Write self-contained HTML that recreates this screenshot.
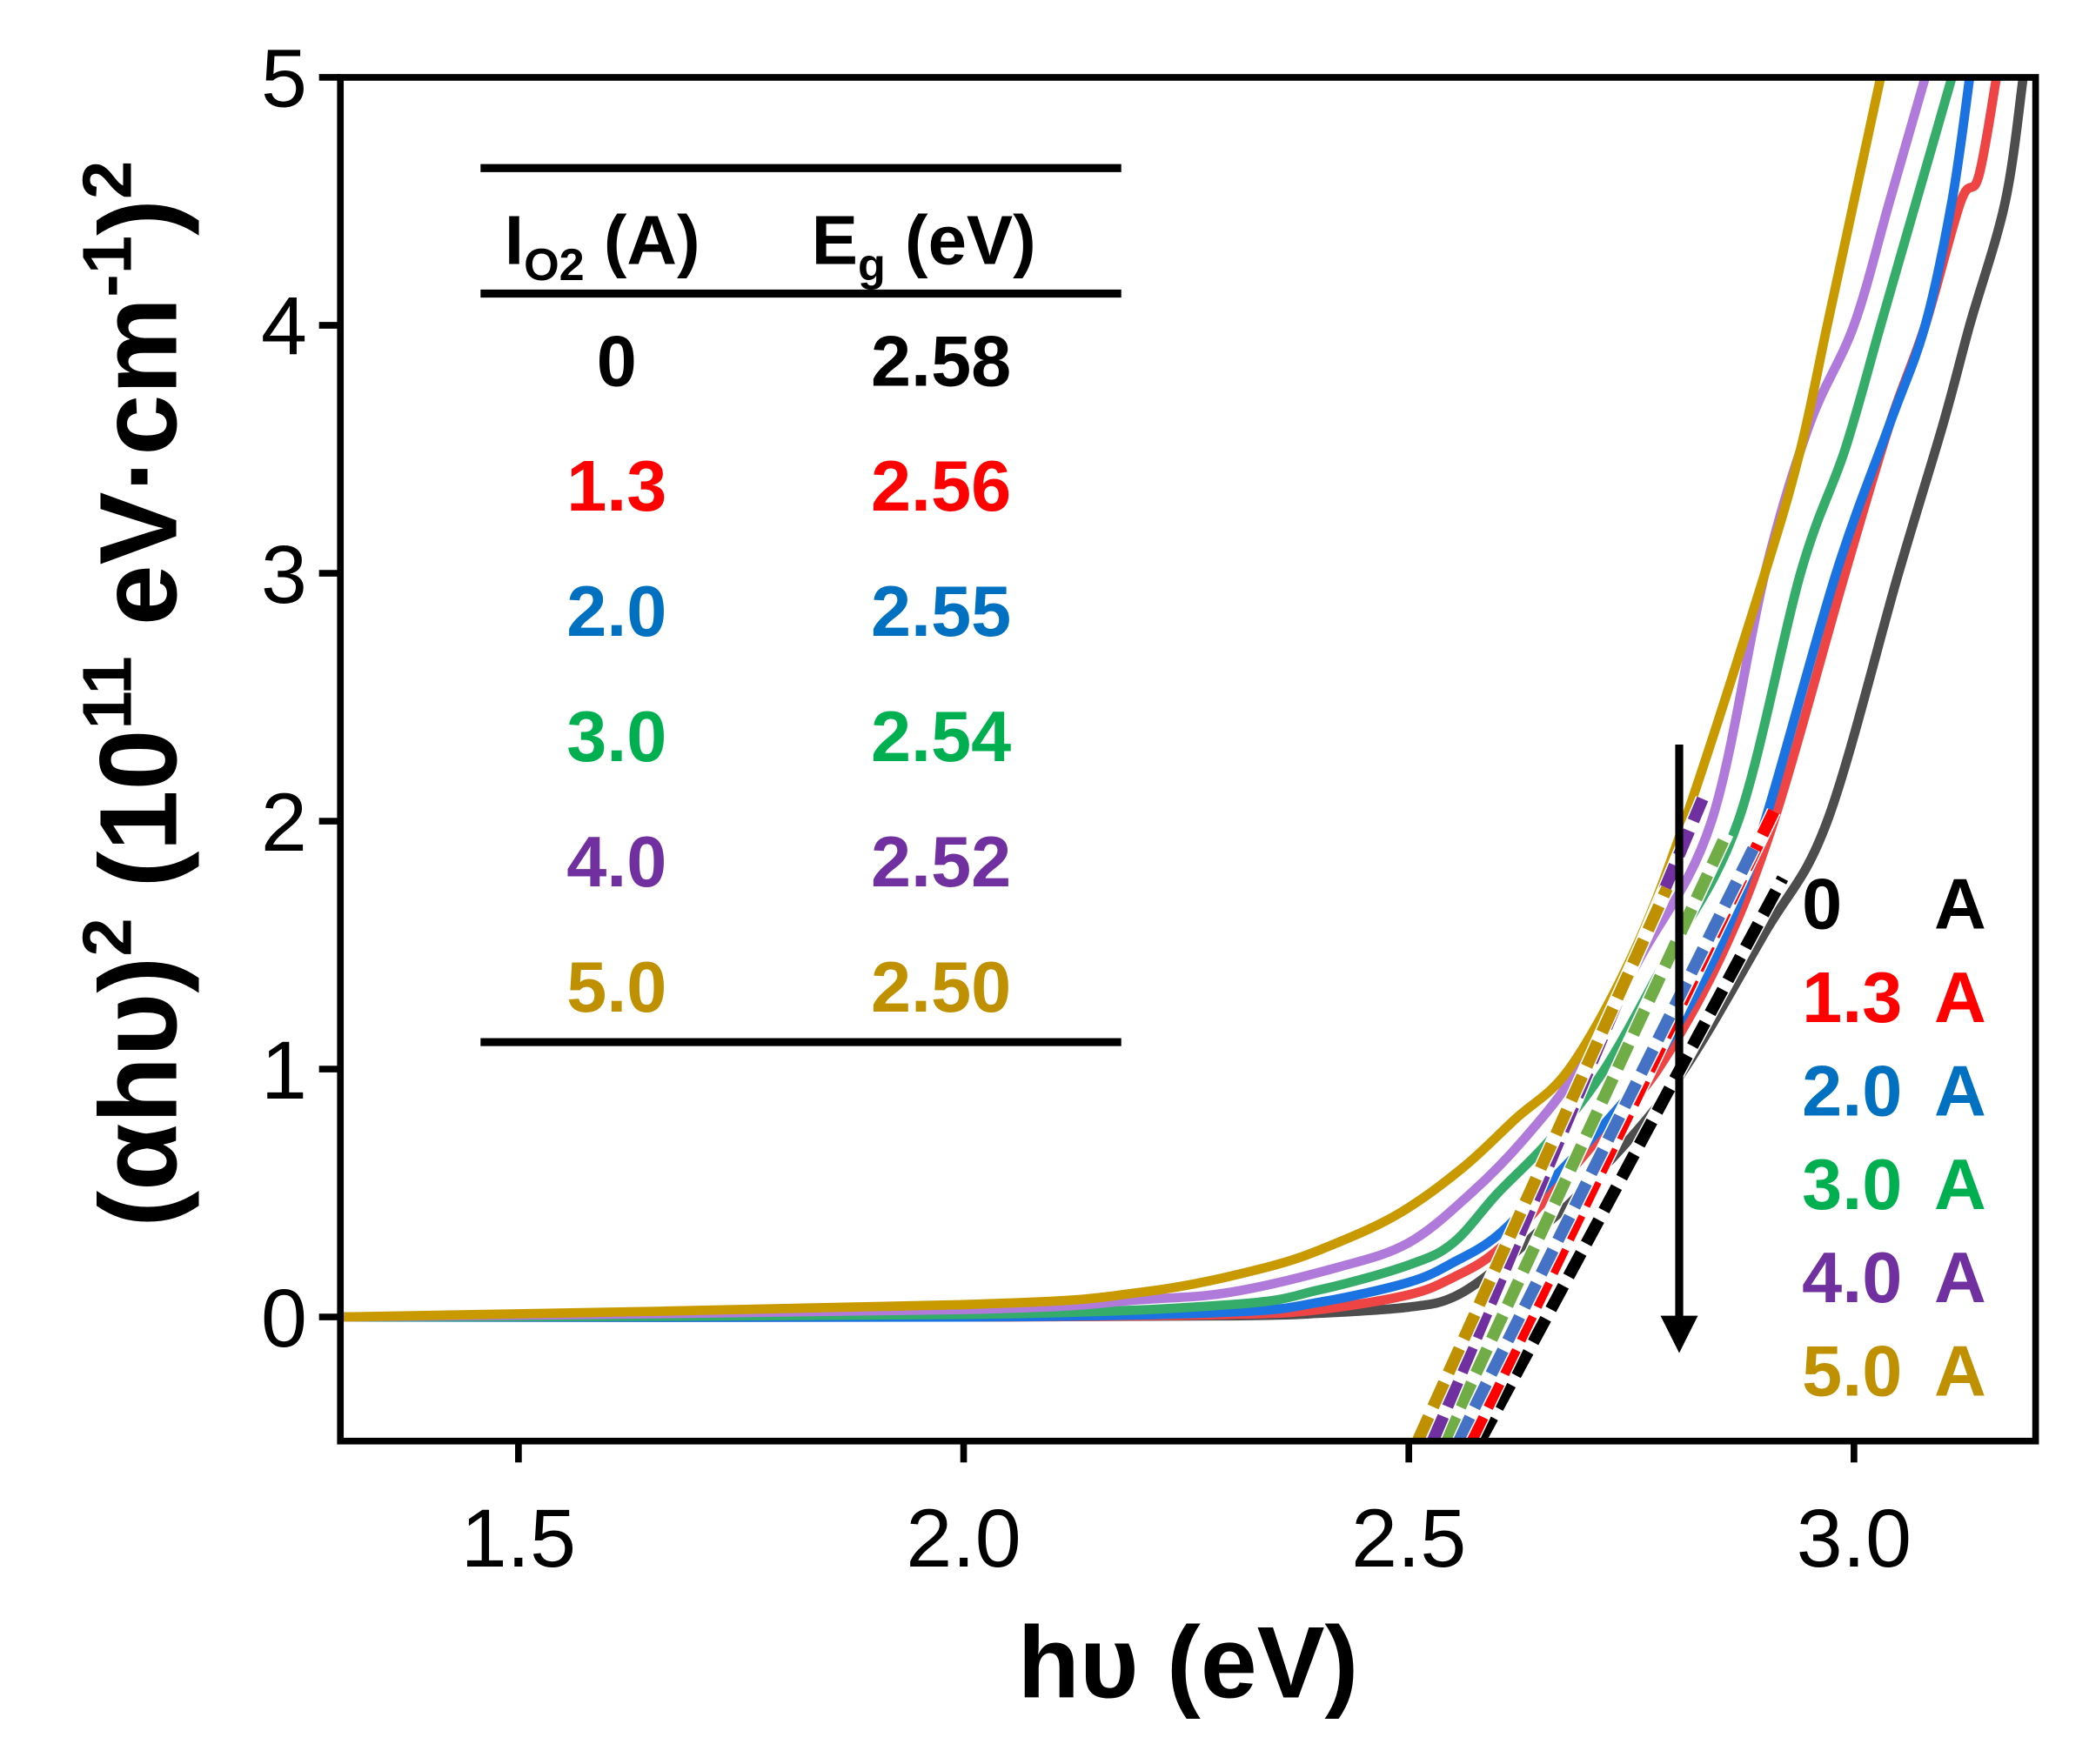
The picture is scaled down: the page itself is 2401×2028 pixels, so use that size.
<!DOCTYPE html>
<html><head><meta charset="utf-8"><style>
html,body{margin:0;padding:0;background:#fff}
svg{display:block}
text{font-family:"Liberation Sans",Arial,sans-serif}
</style></head><body>
<svg id="chart" width="2401" height="2028" viewBox="0 0 1565 1322" preserveAspectRatio="none" xmlns="http://www.w3.org/2000/svg">
<g id="marks"></g>
<g id="axes"></g>
<g id="table">
  <line x1="360" y1="126" x2="840" y2="126" stroke="#000" stroke-width="6"/>
  <line x1="360" y1="220" x2="840" y2="220" stroke="#000" stroke-width="6"/>
  <line x1="360" y1="781" x2="840" y2="781" stroke="#000" stroke-width="6"/>
  <text x="378" y="198" font-size="52" font-weight="bold">I<tspan font-size="34" dy="12">O2</tspan><tspan dy="-12"> (A)</tspan></text>
  <text x="608" y="198" font-size="52" font-weight="bold">E<tspan font-size="34" dy="12">g</tspan><tspan dy="-12"> (eV)</tspan></text>
</g>
<g id="legend"></g>
</svg>
<script>
const currents = ["0","1.3","2.0","3.0","4.0","5.0"];
const gaps = ["2.58","2.56","2.55","2.54","2.52","2.50"];
const colors = ["#4d4d4d","#ee4444","#1a73e0","#35ac6a","#b07ada","#c89a00"];
const textColors = ["#000","#ff0000","#0070c0","#00b050","#7030a0","#bf9000"];
const dashColors = ["#000","#ff0000","#4472c4","#70ad47","#7030a0","#bf9000"];
const xTicks = [1.5,2.0,2.5,3.0];
const yTicks = [0,1,2,3,4,5];
const E0 = [1.3,2.0,2.3,2.4,2.5,2.55,2.6,2.65,2.7,2.8,2.9,2.97,3.05,3.1,3.13,3.17,3.19];
const Y0 = [0,0,0.005,0.015,0.04,0.08,0.2,0.36,0.53,0.95,1.55,2.0,3.0,3.6,4.0,4.5,5.0];
const E1 = [1.3,2.0,2.3,2.4,2.5,2.55,2.6,2.66,2.72,2.78,2.85,2.91,2.99,3.04,3.08,3.12,3.14,3.16];
const Y1 = [0,0,0.01,0.03,0.09,0.16,0.27,0.5,0.75,1.0,1.45,2.0,3.0,3.6,4.0,4.5,4.6,5.0];
const E2 = [1.3,2.0,2.3,2.4,2.5,2.55,2.6,2.66,2.72,2.78,2.85,2.9,2.98,3.04,3.08,3.11,3.13];
const Y2 = [0,0,0.02,0.06,0.14,0.22,0.33,0.55,0.78,1.05,1.5,2.0,3.0,3.6,4.0,4.5,5.0];
const E3 = [1.3,2.0,2.3,2.4,2.5,2.55,2.6,2.66,2.72,2.79,2.87,2.94,2.99,3.03,3.07,3.09,3.11];
const Y3 = [0,0.01,0.05,0.11,0.21,0.3,0.5,0.72,1.0,1.45,2.0,3.0,3.5,4.0,4.5,4.75,5.0];
const E4 = [1.3,2.0,2.2,2.3,2.42,2.5,2.57,2.63,2.69,2.76,2.84,2.9,2.95,3.0,3.04,3.08];
const Y4 = [0,0.03,0.07,0.1,0.2,0.3,0.5,0.72,1.0,1.45,2.0,3.0,3.6,4.0,4.5,5.0];
const E5 = [1.3,2.0,2.2,2.34,2.42,2.49,2.56,2.62,2.68,2.75,2.81,2.9,2.94,2.97,3.0,3.03];
const Y5 = [0,0.05,0.1,0.2,0.3,0.42,0.6,0.8,1.0,1.45,2.0,3.0,3.5,4.0,4.5,5.0];
const fitStartE = [2.58,2.57,2.555,2.54,2.527,2.51];
const fitEndE = [2.92,2.91,2.887,2.857,2.83,2.79];
const fitEndY = [1.77,2.04,1.89,1.95,2.09,1.73];
const fitStartY = -0.5;

const NS="http://www.w3.org/2000/svg";
const L=255,R=1525,T=58,B=1080;
function sx(e){return L+(e-1.3)/(3.204-1.3)*(R-L);}
function sy(v){return 987-v*185.8;}
function mk(tag,attrs,parent){const el=document.createElementNS(NS,tag);for(const k in attrs)el.setAttribute(k,attrs[k]);parent.appendChild(el);return el;}
function smoothPath(pts){
  let d='M'+pts[0][0].toFixed(1)+' '+pts[0][1].toFixed(1);
  for(let i=0;i<pts.length-1;i++){
    const p0=pts[Math.max(0,i-1)],p1=pts[i],p2=pts[i+1],p3=pts[Math.min(pts.length-1,i+2)];
    const c1=[p1[0]+(p2[0]-p0[0])/6,p1[1]+(p2[1]-p0[1])/6];
    const c2=[p2[0]-(p3[0]-p1[0])/6,p2[1]-(p3[1]-p1[1])/6];
    d+=' C'+c1[0].toFixed(1)+' '+c1[1].toFixed(1)+' '+c2[0].toFixed(1)+' '+c2[1].toFixed(1)+' '+p2[0].toFixed(1)+' '+p2[1].toFixed(1);
  }
  return d;
}
const marks=document.getElementById('marks'),axes=document.getElementById('axes');
const clip=mk('clipPath',{id:'pc'},document.getElementById('chart'));
mk('rect',{x:L,y:T,width:R-L,height:B-T},clip);
marks.setAttribute('clip-path','url(#pc)');
const Es=[E0,E1,E2,E3,E4,E5],Ys=[Y0,Y1,Y2,Y3,Y4,Y5];
for(let i=0;i<6;i++){
  const pts=Es[i].map((e,j)=>[sx(e),sy(Ys[i][j])]);
  const p=mk('path',{d:smoothPath(pts),fill:'none',stroke:colors[i],'stroke-width':7,'stroke-linejoin':'round'},marks);
  
  
}
for(let i=0;i<6;i++){
  const a={x1:sx(fitStartE[i]),y1:sy(fitStartY),x2:sx(fitEndE[i]),y2:sy(fitEndY[i])};
  mk('line',Object.assign({stroke:'#fff','stroke-width':11},a),marks);
  const l=mk('line',Object.assign({stroke:dashColors[i],'stroke-width':9,'stroke-dasharray':'20 8'},a),marks);
  
  
}
const ar=mk('line',{x1:1258,y1:558,x2:1258,y2:992,stroke:'#000','stroke-width':6},axes);


mk('polygon',{points:'1244,986 1272,986 1258,1014',fill:'#000'},axes);
const fr=mk('rect',{x:L,y:T,width:R-L,height:B-T,fill:'none',stroke:'#000','stroke-width':5},axes);


xTicks.forEach(t=>{
  mk('line',{x1:sx(t),y1:B,x2:sx(t),y2:B+16,stroke:'#000','stroke-width':5},axes);
  const tx=mk('text',{x:sx(t),y:1174,'font-size':62,'text-anchor':'middle'},axes);
  tx.textContent=t.toFixed(1);
  
  
});
yTicks.forEach(t=>{
  mk('line',{x1:L-16,y1:sy(t),x2:L,y2:sy(t),stroke:'#000','stroke-width':5},axes);
  const tx=mk('text',{x:230,y:sy(t)+22,'font-size':62,'text-anchor':'end'},axes);
  tx.textContent=t;
  
  
});
const xt=mk('text',{x:890,y:1272,'font-size':76,'font-weight':'bold','text-anchor':'middle'},axes);
xt.textContent='hυ (eV)';


const yt=mk('text',{transform:'translate(132,520) rotate(-90)','font-size':82,'font-weight':'bold','text-anchor':'middle'},axes);
yt.innerHTML='(αhυ)<tspan font-size="52" dy="-34">2</tspan><tspan dy="34"> (10</tspan><tspan font-size="52" dy="-34">11</tspan><tspan dy="34"> eV·cm</tspan><tspan font-size="52" dy="-34">-1</tspan><tspan dy="34">)</tspan><tspan font-size="52" dy="-34">2</tspan>';


const tbl=document.getElementById('table'),lg=document.getElementById('legend');
for(let i=0;i<6;i++){
  const y=289+i*93.8;
  const a=mk('text',{x:462,y:y,'font-size':54,'font-weight':'bold','text-anchor':'middle',fill:textColors[i]},tbl);
  a.textContent=currents[i];
  
  
  const b=mk('text',{x:705,y:y,'font-size':54,'font-weight':'bold','text-anchor':'middle',fill:textColors[i]},tbl);
  b.textContent=gaps[i];
  
  
  const ly=696+i*70;
  const c=mk('text',{x:1350,y:ly,'font-size':54,'font-weight':'bold',fill:textColors[i]},lg);
  c.textContent=currents[i];
  
  
  mk('text',{x:1488,y:ly,'font-size':54,'font-weight':'bold','text-anchor':'end',fill:textColors[i]},lg).textContent='A';
}
</script>
</body></html>
